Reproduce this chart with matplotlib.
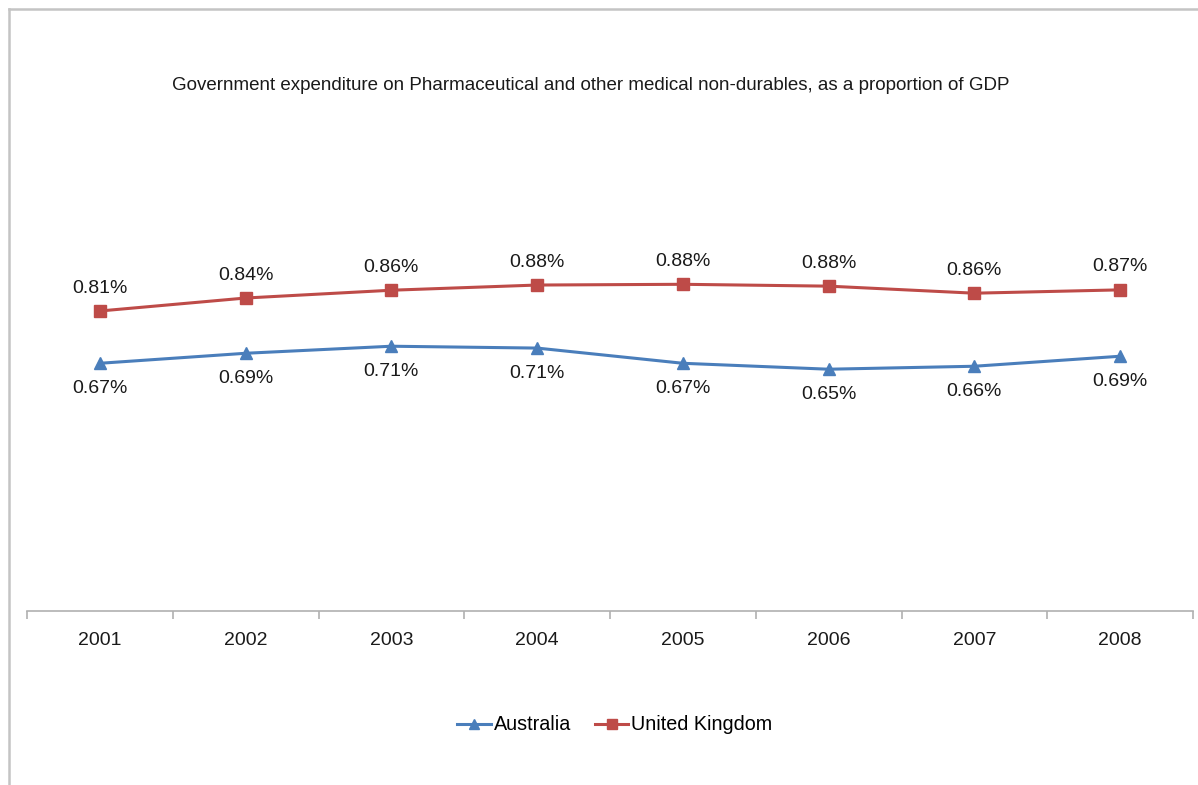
import matplotlib
matplotlib.use("Agg")
import matplotlib.pyplot as plt
from matplotlib.lines import Line2D

years = ["2001", "2002", "2003", "2004", "2005", "2006", "2007", "2008"]
australia = [0.668, 0.695, 0.714, 0.709, 0.668, 0.652, 0.660, 0.687]
uk = [0.809, 0.844, 0.865, 0.879, 0.881, 0.876, 0.857, 0.866]
aus_labels = ["0.67%", "0.69%", "0.71%", "0.71%", "0.67%", "0.65%", "0.66%", "0.69%"]
uk_labels = ["0.81%", "0.84%", "0.86%", "0.88%", "0.88%", "0.88%", "0.86%", "0.87%"]
subtitle = "Government expenditure on Pharmaceutical and other medical non-durables, as a proportion of GDP"

plt.rcParams['font.family'] = ['Liberation Sans', 'DejaVu Sans']

W, H = 1198, 785
fig = plt.figure(figsize=(W / 100, H / 100), dpi=100)

# outer frame lines
fig.add_artist(Line2D([9 / W, 1], [1 - 9 / H, 1 - 9 / H], color="#c4c4c4", lw=1.8, transform=fig.transFigure))
fig.add_artist(Line2D([9 / W, 9 / W], [0, 1 - 9 / H], color="#c4c4c4", lw=1.8, transform=fig.transFigure))

left, right = 27 / W, 1193 / W
bottom, top = 1 - 611 / H, 1 - 166 / H
ax = fig.add_axes([left, bottom, right - left, top - bottom])

x = list(range(len(years)))
blue = "#4a7ebb"
red = "#be4b48"
txt = "#1a1a1a"
ax.plot(x, australia, color=blue, lw=2.2, marker="^", ms=9, label="Australia")
ax.plot(x, uk, color=red, lw=2.2, marker="s", ms=8, label="United Kingdom")

for xi, v, t in zip(x, uk, uk_labels):
    ax.annotate(t, (xi, v), xytext=(0, 16.5), textcoords="offset points",
                ha="center", va="center", fontsize=14, color=txt)
for xi, v, t in zip(x, australia, aus_labels):
    ax.annotate(t, (xi, v), xytext=(0, -18.5), textcoords="offset points",
                ha="center", va="center", fontsize=14, color=txt)

ax.set_xlim(-0.5, len(years) - 0.5)
ax.set_ylim(0, 1.2)
ax.set_yticks([])
ax.set_xticks([i - 0.5 for i in range(len(years) + 1)], minor=False)
ax.set_xticklabels([])
ax.set_xticks(x, minor=True)
ax.set_xticklabels(years, minor=True, fontsize=14, color=txt)
ax.tick_params(axis="x", which="major", length=6, color="#b0b0b0", width=1.2)
ax.tick_params(axis="x", which="minor", length=0, pad=15)
for s in ["top", "right", "left"]:
    ax.spines[s].set_visible(False)
ax.spines["bottom"].set_color("#b0b0b0")
ax.spines["bottom"].set_linewidth(1.2)
ax.patch.set_alpha(0)

fig.text(591 / W, 1 - 85 / H, subtitle, ha="center", va="center", fontsize=13.5, color=txt)

handles, labels = ax.get_legend_handles_labels()
fig.legend(handles, labels, loc="center", bbox_to_anchor=(615 / W, 1 - 725 / H), ncol=2,
           frameon=False, fontsize=14.2, handlelength=1.7, handletextpad=0.15, columnspacing=1.2,
           markerscale=0.85)

fig.savefig("out.png", dpi=100)
